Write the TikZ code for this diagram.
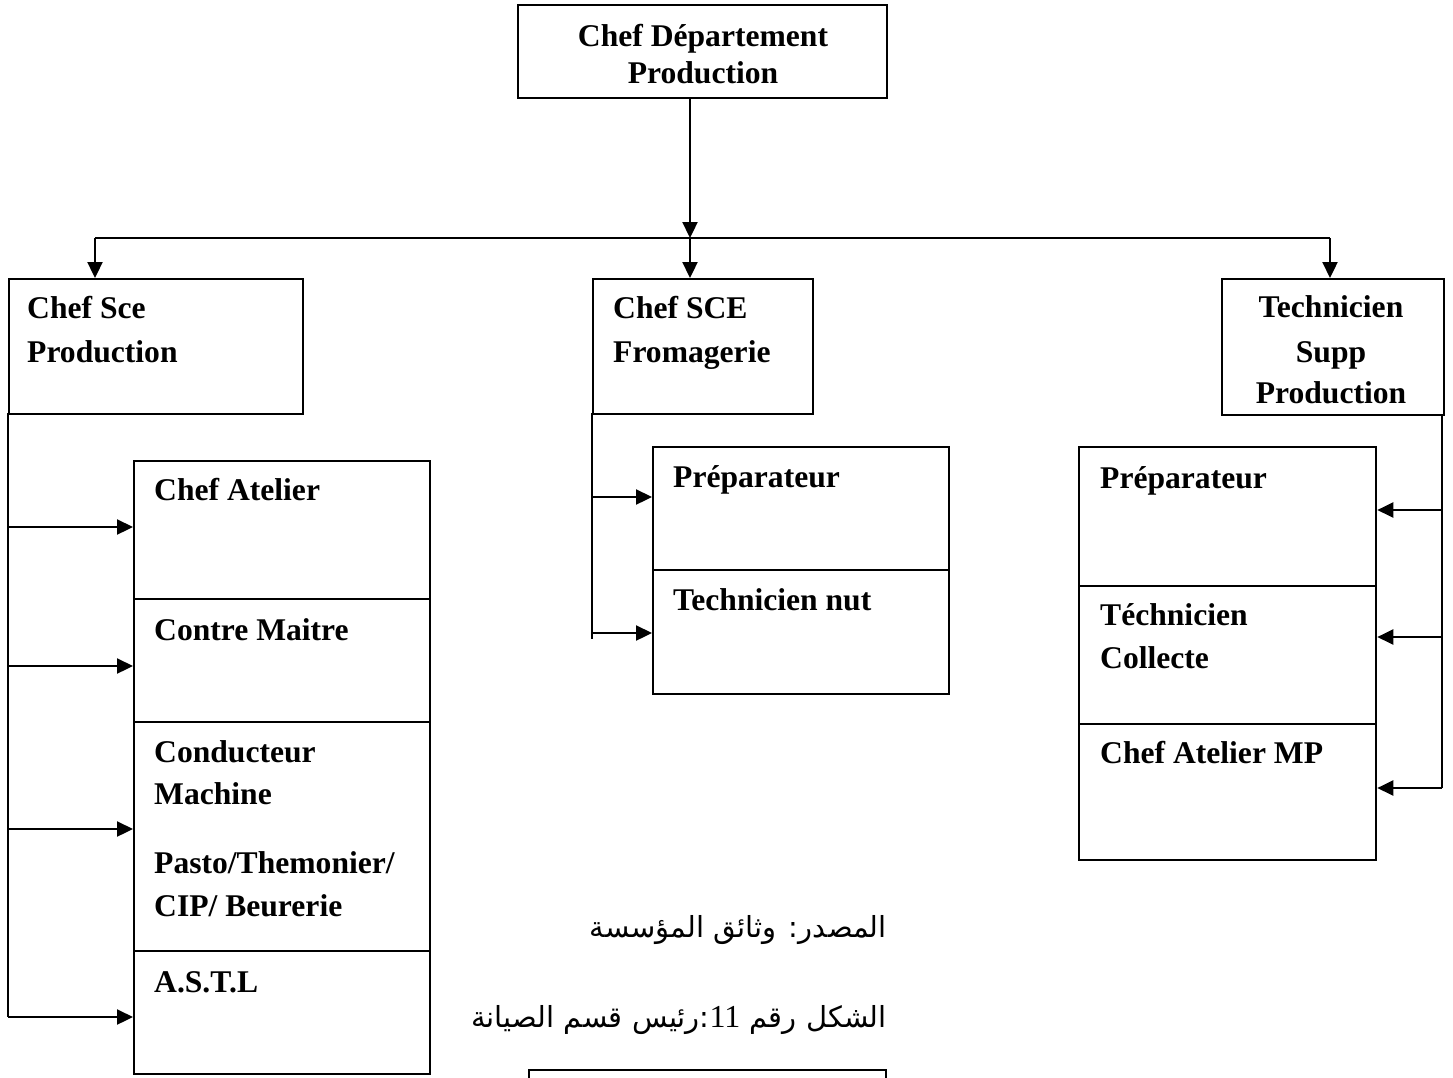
\documentclass[tikz,border=0pt]{standalone}
\usepackage{fontspec}
\setmainfont{Liberation Serif}
\newfontfamily\arabicfont[Script=Arabic]{DejaVu Sans}
\TeXXeTstate=1
\usetikzlibrary{arrows.meta}
\begin{document}
\begin{tikzpicture}[x=1pt,y=-1pt,
  box/.style={draw,line width=2.3pt,inner sep=0pt,anchor=north west},
  lbl/.style={inner sep=0pt,anchor=base west,font=\fontsize{31.6}{36}\selectfont\bfseries},
  clbl/.style={lbl,anchor=base},
  wire/.style={line width=2.3pt},
  arr/.style={wire,-{Triangle[length=16pt,width=15pt]}},
  arab/.style={inner sep=0pt,anchor=base east,font=\fontsize{29}{34}\selectfont}]
\useasboundingbox (0,0) rectangle (1453,1077);
\fill[white] (0,0) rectangle (1453,1077);

% head of department
\node[box,minimum width=369pt,minimum height=93pt] (top) at (517,4) {};
\node[clbl] (topa) at (703,46) {Chef Département};
\node[clbl] (topb) at (703,83) {Production};

% second level
\node[box,minimum width=294pt,minimum height=135pt] (csp) at (8,278) {};
\node[lbl] (cspa) at (27,318) {Chef Sce};
\node[lbl] (cspb) at (27,362) {Production};

\node[box,minimum width=220pt,minimum height=135pt] (csf) at (592,278) {};
\node[lbl] (csfa) at (613,318) {Chef SCE};
\node[lbl] (csfb) at (613,362) {Fromagerie};

\node[box,minimum width=222pt,minimum height=136pt] (tsp) at (1221,278) {};
\node[clbl] (tspa) at (1331,317) {Technicien};
\node[clbl] (tspb) at (1331,362) {Supp};
\node[clbl] (tspc) at (1331,403) {Production};

% bus from the head to the three services
\coordinate (bl) at (95,238);
\coordinate (bm) at (690,238);
\coordinate (br) at (1330,238);
\draw[arr] (690,97) -- (bm);
\draw[wire] (bl) -- (br);
\draw[arr] (bl) -- (bl |- csp.north);
\draw[arr] (bm) -- (bm |- csf.north);
\draw[arr] (br) -- (br |- tsp.north);

% production service stack
\node[box,minimum width=296pt,minimum height=138pt] (ca) at (133,460) {};
\node[box,minimum width=296pt,minimum height=123pt] (cm) at (133,598) {};
\node[box,minimum width=296pt,minimum height=229pt] (cd) at (133,721) {};
\node[box,minimum width=296pt,minimum height=123pt] (astl) at (133,950) {};
\node[lbl] (caa) at (154,500) {Chef Atelier};
\node[lbl] (cma) at (154,640) {Contre Maitre};
\node[lbl] (cda) at (154,762) {Conducteur};
\node[lbl] (cdb) at (154,804) {Machine};
\node[lbl] (cdc) at (154,873) {Pasto/Themonier/};
\node[lbl] (cdd) at (154,916) {CIP/ Beurerie};
\node[lbl] (astla) at (154,992) {A.S.T.L};

\coordinate (l0) at (8,413);
\coordinate (l1) at (8,527);
\coordinate (l2) at (8,666);
\coordinate (l3) at (8,829);
\coordinate (l4) at (8,1017);
\draw[wire] (l0) -- (l4);
\draw[arr] (l1) -- (l1 -| ca.west);
\draw[arr] (l2) -- (l2 -| cm.west);
\draw[arr] (l3) -- (l3 -| cd.west);
\draw[arr] (l4) -- (l4 -| astl.west);

% cheese service stack
\node[box,minimum width=296pt,minimum height=123pt] (pr1) at (652,446) {};
\node[box,minimum width=296pt,minimum height=124pt] (tn) at (652,569) {};
\node[lbl] (pr1a) at (673,487) {Préparateur};
\node[lbl] (tna) at (673,610) {Technicien nut};

\coordinate (m0) at (592,413);
\coordinate (m1) at (592,497);
\coordinate (m2) at (592,633);
\coordinate (m3) at (592,639);
\draw[wire] (m0) -- (m3);
\draw[arr] (m1) -- (m1 -| pr1.west);
\draw[arr] (m2) -- (m2 -| tn.west);

% support technician stack
\node[box,minimum width=297pt,minimum height=139pt] (pr2) at (1078,446) {};
\node[box,minimum width=297pt,minimum height=138pt] (tc) at (1078,585) {};
\node[box,minimum width=297pt,minimum height=136pt] (cam) at (1078,723) {};
\node[lbl] (pr2a) at (1100,488) {Préparateur};
\node[lbl] (tca) at (1100,625) {Téchnicien};
\node[lbl] (tcb) at (1100,668) {Collecte};
\node[lbl] (cama) at (1100,763) {Chef Atelier MP};

\coordinate (r0) at (1442,414);
\coordinate (r1) at (1442,510);
\coordinate (r2) at (1442,637);
\coordinate (r3) at (1442,788);
\draw[wire] (r0) -- (r3);
\draw[arr] (r1) -- (r1 -| pr2.east);
\draw[arr] (r2) -- (r2 -| tc.east);
\draw[arr] (r3) -- (r3 -| cam.east);

% source and caption
\node[arab] (src) at (887,937) {\arabicfont\beginR المصدر: وثائق المؤسسة\endR};
\node[arab] (cap) at (887,1027) {\arabicfont\beginR الشكل رقم \beginL{\rmfamily\fontsize{32}{36}\selectfont 11}\endL:رئيس قسم الصيانة\endR};

% next frame, cut by the page edge
\draw[wire] (529,1085) -- (529,1070) -- (886,1070) -- (886,1085);
\end{tikzpicture}
\end{document}
